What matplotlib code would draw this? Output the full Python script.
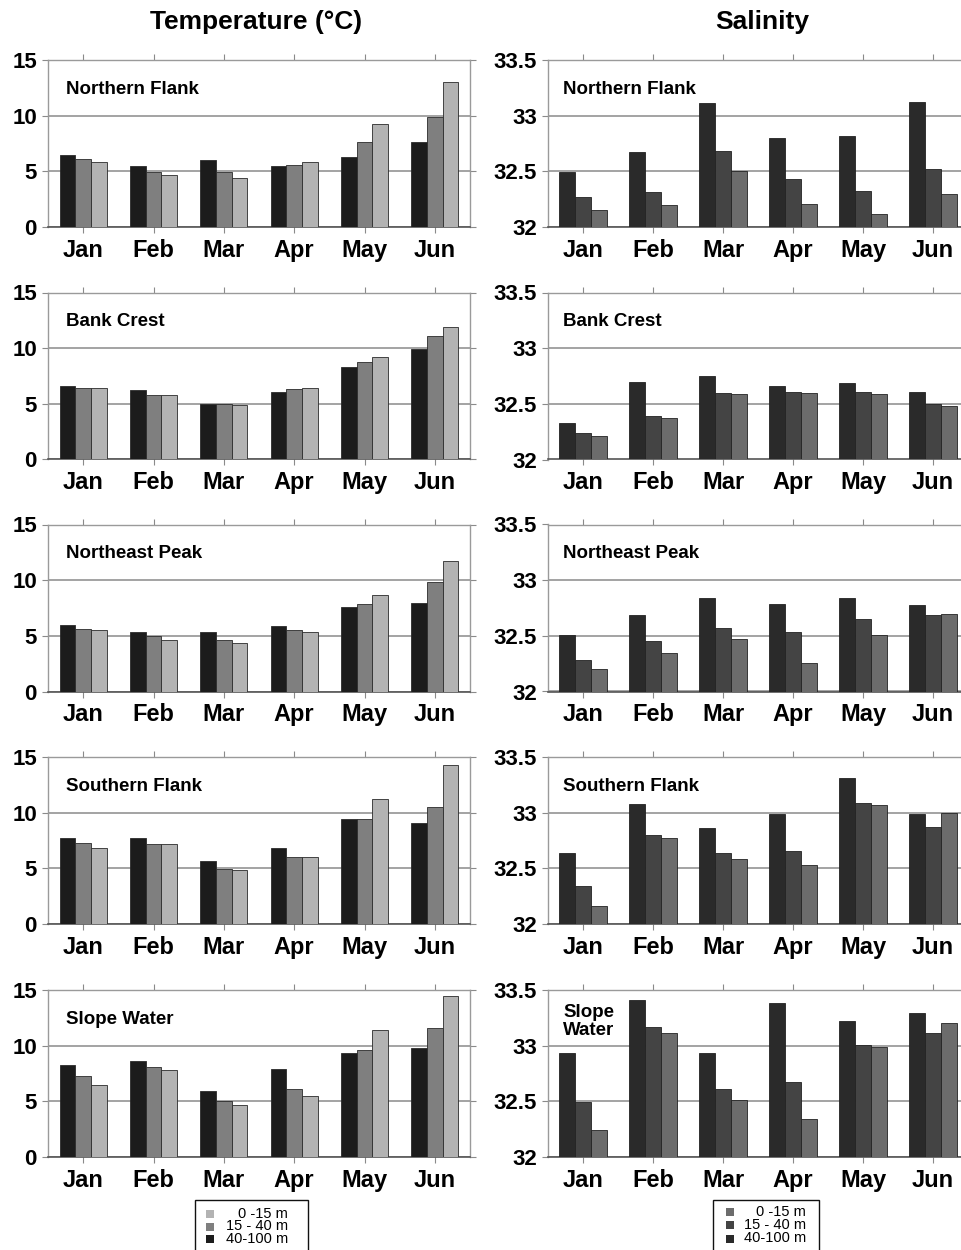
import matplotlib
matplotlib.use("Agg")
import matplotlib.pyplot as plt
from matplotlib.patches import Rectangle
import numpy as np

plt.rcParams['font.family'] = ['Liberation Sans', 'DejaVu Sans']

months = ["Jan", "Feb", "Mar", "Apr", "May", "Jun"]
regions = ["Northern Flank", "Bank Crest", "Northeast Peak", "Southern Flank", "Slope Water"]
sal_region_labels = ["Northern Flank", "Bank Crest", "Northeast Peak", "Southern Flank", "Slope\nWater"]
depth_labels = ["0 -15 m", "15 - 40 m", "40-100 m"]

# Temperature (deg C); each list: 40-100 m, 15-40 m, 0-15 m
temp_nf_deep = [6.45, 5.5, 6.0, 5.5, 6.25, 7.65]
temp_nf_mid = [6.1, 4.9, 4.9, 5.6, 7.65, 9.85]
temp_nf_surf = [5.85, 4.65, 4.4, 5.85, 9.25, 13.05]
temp_bc_deep = [6.6, 6.2, 5.0, 6.1, 8.3, 9.95]
temp_bc_mid = [6.45, 5.75, 4.95, 6.3, 8.8, 11.1]
temp_bc_surf = [6.45, 5.75, 4.9, 6.45, 9.25, 11.9]
temp_nep_deep = [5.95, 5.35, 5.35, 5.85, 7.6, 7.95]
temp_nep_mid = [5.6, 4.95, 4.6, 5.5, 7.85, 9.8]
temp_nep_surf = [5.5, 4.6, 4.4, 5.35, 8.7, 11.7]
temp_sf_deep = [7.75, 7.75, 5.7, 6.8, 9.4, 9.05]
temp_sf_mid = [7.25, 7.15, 4.95, 6.05, 9.4, 10.5]
temp_sf_surf = [6.8, 7.15, 4.85, 6.05, 11.25, 14.3]
temp_sw_deep = [8.3, 8.65, 5.95, 7.9, 9.3, 9.75]
temp_sw_mid = [7.3, 8.05, 5.0, 6.1, 9.65, 11.6]
temp_sw_surf = [6.5, 7.8, 4.65, 5.5, 11.45, 14.5]

# Salinity; each list: 40-100 m, 15-40 m, 0-15 m
sal_nf_deep = [32.49, 32.67, 33.11, 32.80, 32.82, 33.12]
sal_nf_mid = [32.27, 32.31, 32.68, 32.43, 32.32, 32.52]
sal_nf_surf = [32.15, 32.20, 32.50, 32.21, 32.12, 32.30]
sal_bc_deep = [32.33, 32.70, 32.75, 32.66, 32.69, 32.61]
sal_bc_mid = [32.24, 32.39, 32.60, 32.61, 32.61, 32.50]
sal_bc_surf = [32.21, 32.37, 32.59, 32.60, 32.59, 32.48]
sal_nep_deep = [32.51, 32.69, 32.84, 32.79, 32.84, 32.78]
sal_nep_mid = [32.28, 32.45, 32.57, 32.53, 32.65, 32.69]
sal_nep_surf = [32.20, 32.35, 32.47, 32.26, 32.51, 32.70]
sal_sf_deep = [32.64, 33.08, 32.86, 32.99, 33.31, 32.99]
sal_sf_mid = [32.34, 32.80, 32.64, 32.66, 33.09, 32.87]
sal_sf_surf = [32.16, 32.77, 32.58, 32.53, 33.07, 33.00]
sal_sw_deep = [32.93, 33.41, 32.93, 33.38, 33.22, 33.29]
sal_sw_mid = [32.49, 33.17, 32.61, 32.67, 33.01, 33.11]
sal_sw_surf = [32.24, 33.11, 32.51, 32.34, 32.99, 33.20]

temp_sets = [
    (temp_nf_deep, temp_nf_mid, temp_nf_surf),
    (temp_bc_deep, temp_bc_mid, temp_bc_surf),
    (temp_nep_deep, temp_nep_mid, temp_nep_surf),
    (temp_sf_deep, temp_sf_mid, temp_sf_surf),
    (temp_sw_deep, temp_sw_mid, temp_sw_surf),
]
sal_sets = [
    (sal_nf_deep, sal_nf_mid, sal_nf_surf),
    (sal_bc_deep, sal_bc_mid, sal_bc_surf),
    (sal_nep_deep, sal_nep_mid, sal_nep_surf),
    (sal_sf_deep, sal_sf_mid, sal_sf_surf),
    (sal_sw_deep, sal_sw_mid, sal_sw_surf),
]

temp_colors = ['#1c1c1c', '#7f7f7f', '#b3b3b3']
sal_colors = ['#2a2a2a', '#444444', '#6c6c6c']

W, H = 961, 1250
fig = plt.figure(figsize=(W / 100, H / 100), dpi=100)
fig.patch.set_facecolor('white')


def fx(px):
    return px / W


def fy(py):
    return 1 - py / H


row_top = [60, 292.5, 524.5, 757, 990]
ax_h = 167
bar_w = 0.224
x = np.arange(len(months)) + 0.5


def style_axes(ax, ymin, ymax, step, fmt):
    ax.set_xlim(0, 6)
    ax.set_ylim(ymin, ymax)
    ticks = np.arange(ymin, ymax + step / 2, step)
    ax.set_yticks(ticks)
    ax.set_yticklabels([fmt(t) for t in ticks], fontsize=16, fontweight='bold')
    ax.yaxis.grid(True, color='#8a8a8a', linewidth=1.1)
    ax.set_axisbelow(True)
    ax.set_xticks(x)
    ax.set_xticklabels(months, fontsize=17, fontweight='bold', va='baseline')
    ax.tick_params(axis='x', which='both', direction='out', length=4, color='#8a8a8a',
                   pad=17.5, top=True, labeltop=False)
    ax.tick_params(axis='y', direction='out', length=4, color='#8a8a8a', pad=4,
                   right=True, labelright=False)
    for side in ['top', 'right', 'left']:
        ax.spines[side].set_color('#9a9a9a')
        ax.spines[side].set_linewidth(1.0)
    ax.spines['bottom'].set_color('#555555')
    ax.spines['bottom'].set_linewidth(1.2)


for i in range(5):
    top = row_top[i]
    # Temperature panel
    ax = fig.add_axes([fx(48), fy(top + ax_h), fx(422), ax_h / H])
    for k, vals in enumerate(temp_sets[i]):
        ax.bar(x + (k - 1) * bar_w, vals, width=bar_w, color=temp_colors[k],
               edgecolor='#2a2a2a', linewidth=0.6, zorder=3)
    style_axes(ax, 0, 15, 5, lambda t: f"{t:.0f}")
    ax.text(0.043, 0.826, regions[i], transform=ax.transAxes, fontsize=13.5,
            fontweight='bold', va='center', ha='left')

    # Salinity panel
    ax2 = fig.add_axes([fx(548), fy(top + ax_h), fx(420), ax_h / H])
    for k, vals in enumerate(sal_sets[i]):
        heights = [v - 32 for v in vals]
        ax2.bar(x + (k - 1) * bar_w, heights, bottom=32, width=bar_w,
                color=sal_colors[k], edgecolor='#222222', linewidth=0.6, zorder=3)
    style_axes(ax2, 32, 33.5, 0.5, lambda t: f"{t:g}")
    ax2.text(0.036, 0.81 if i == 4 else 0.826, sal_region_labels[i],
             transform=ax2.transAxes, fontsize=13.5, fontweight='bold',
             va='center', ha='left', linespacing=1.05)

fig.text(fx(256), fy(22), "Temperature (\u00b0C)", fontsize=19, fontweight='bold',
         ha='center', va='center')
fig.text(fx(762), fy(22), "Salinity", fontsize=19, fontweight='bold',
         ha='center', va='center')


def draw_key(x0, x1, sq_x, txt_x, ys, colors):
    fig.patches.append(Rectangle((fx(x0), fy(1253)), fx(x1 - x0), (1253 - 1200) / H,
                                 transform=fig.transFigure, facecolor='white',
                                 edgecolor='#111111', linewidth=1.0))
    # legend lists the surface layer first
    for lbl, yy, col in zip(depth_labels, ys, colors[::-1]):
        fig.patches.append(Rectangle((fx(sq_x), fy(yy + 4)), fx(8), 8 / H,
                                     transform=fig.transFigure, facecolor=col,
                                     edgecolor='none'))
        fig.text(fx(txt_x), fy(yy), lbl, fontsize=10.5, ha='right', va='center')


draw_key(195, 308, 206, 288, [1214, 1226.5, 1239], temp_colors)
draw_key(713, 819, 726, 806, [1212, 1225, 1238.5], sal_colors)

fig.savefig("out.png", dpi=100)
